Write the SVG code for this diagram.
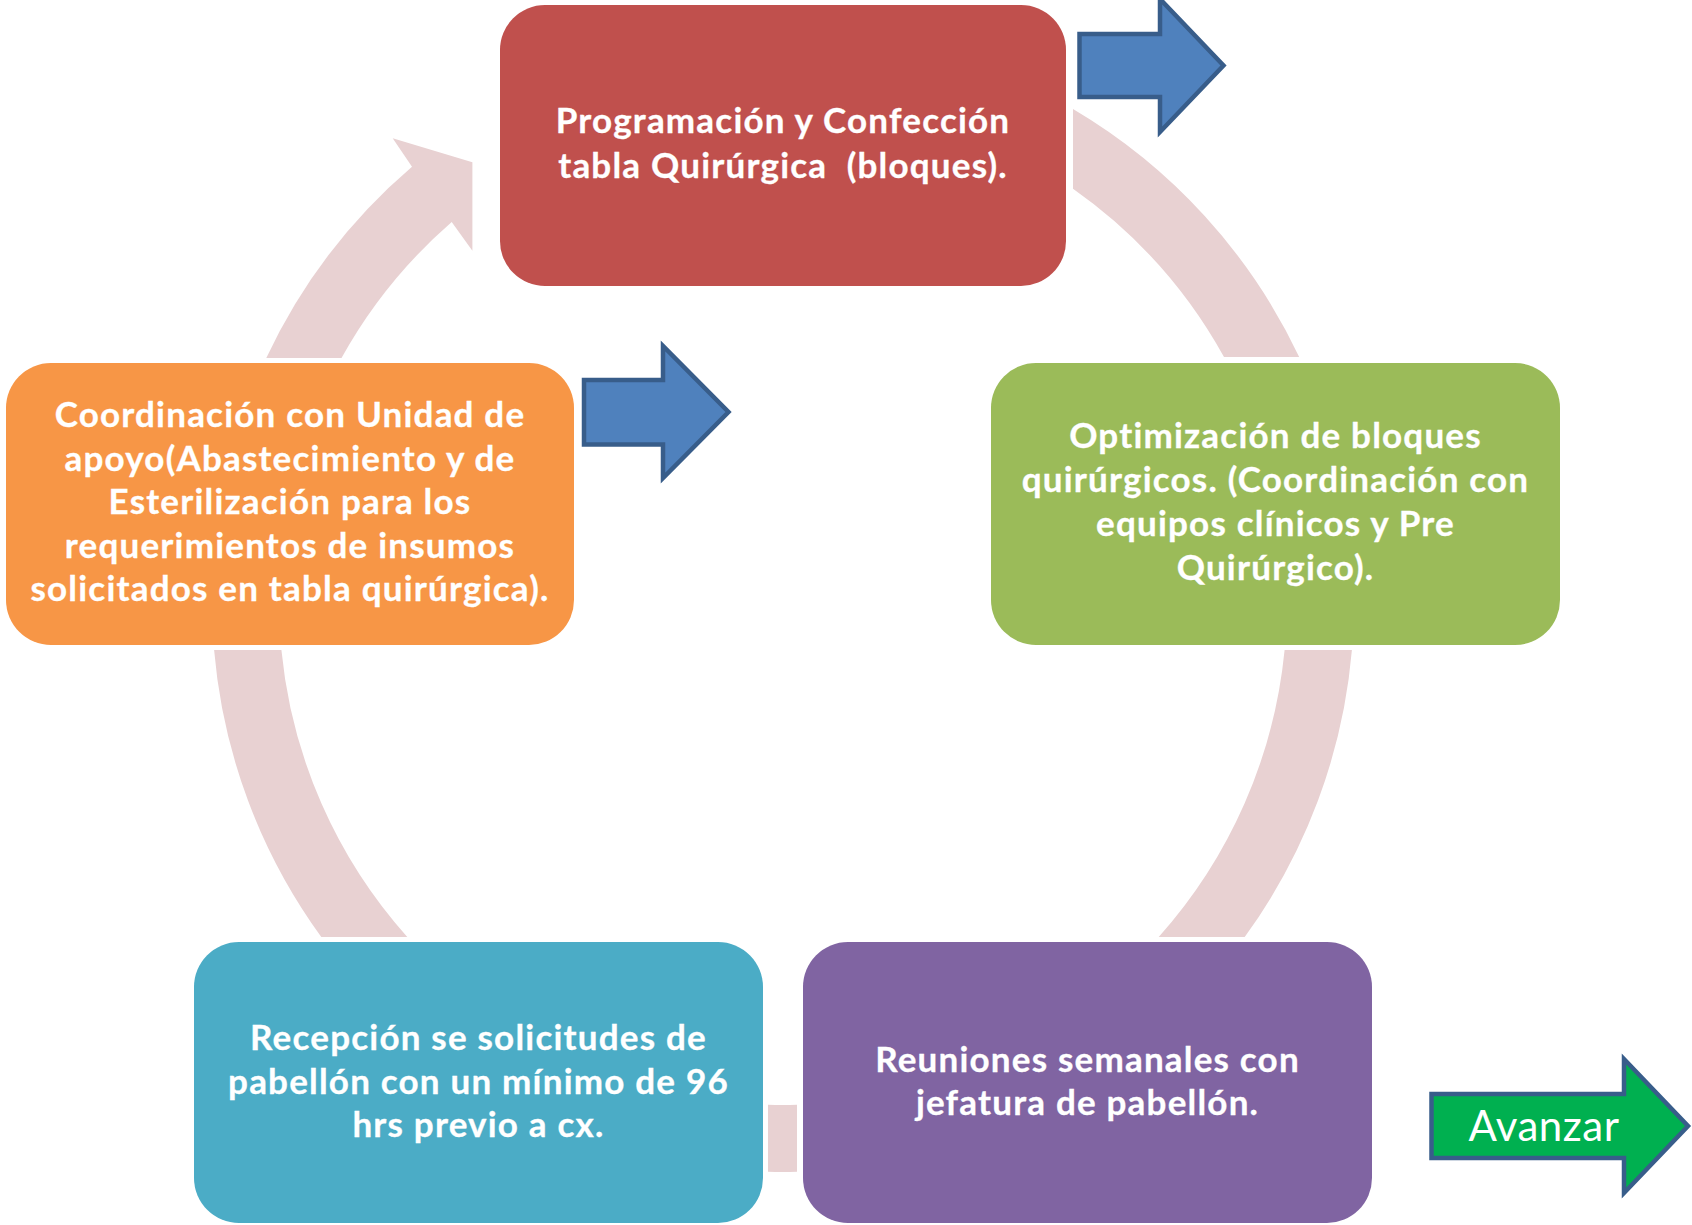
<svg xmlns="http://www.w3.org/2000/svg" width="1692" height="1225" viewBox="0 0 1692 1225">
  <style>
    .ring { fill: #E8D1D2; stroke: none; }
    .box { stroke: none; }
    .lbl { font-family: Lato, "Liberation Sans", sans-serif; font-weight: bold; font-size: 35px; letter-spacing: 1.2px; fill: #FFFFFF; stroke: #FFFFFF; stroke-width: 0.3; text-anchor: middle; }
    .blue-arrow { fill: #4F81BD; stroke: #385D8A; stroke-width: 4.5; stroke-linejoin: miter; }
    .go-arrow { fill: #00B050; stroke: #385D8A; stroke-width: 4.5; stroke-linejoin: miter; }
    .go-lbl { font-family: Lato, "Liberation Sans", sans-serif; font-size: 42px; letter-spacing: 0.5px; fill: #FFFFFF; text-anchor: middle; }
  </style>
  <rect width="1692" height="1225" fill="#FFFFFF"/>

  <g id="connectors">
    <path class="ring" d="M 1073 109.1 A 571 571 0 0 1 1299.2 357 L 1224 357 A 504 504 0 0 0 1073 188.8 Z"/>
    <path class="ring" d="M 1351.9 650 A 571 571 0 0 1 1244.7 937 L 1158.7 937 A 504 504 0 0 0 1284.6 650 Z"/>
    <path class="ring" d="M 797 1104.8 L 797 1171.8 A 571 571 0 0 1 768 1171.8 L 768 1104.8 A 504 504 0 0 0 797 1104.8 Z"/>
    <path class="ring" d="M 321.3 937 A 571 571 0 0 1 214.1 650 L 281.4 650 A 504 504 0 0 0 407.3 937 Z"/>
    <path class="ring" d="M 266.3 358 A 571 571 0 0 1 412 166.7 L 392.7 138.3 L 472.4 162.3 L 472.4 250.7 L 451.7 222 A 504 504 0 0 0 341.5 358 Z"/>
  </g>

  <g id="node-programacion">
    <rect class="box" x="500" y="5" width="566" height="281" rx="45" ry="45" fill="#C0504D"/>
    <text class="lbl" x="783" y="133">Programación y Confección</text>
    <text class="lbl" x="783" y="178" xml:space="preserve" style="white-space:pre">tabla Quirúrgica  (bloques).</text>
  </g>

  <g id="node-optimizacion">
    <rect class="box" x="991" y="363" width="569" height="282" rx="45" ry="45" fill="#9BBB59"/>
    <text class="lbl" x="1275.5" y="447.5">Optimización de bloques</text>
    <text class="lbl" x="1275.5" y="491.5">quirúrgicos. (Coordinación con</text>
    <text class="lbl" x="1275.5" y="535.5">equipos clínicos y Pre</text>
    <text class="lbl" x="1275.5" y="579.5">Quirúrgico).</text>
  </g>

  <g id="node-reuniones">
    <rect class="box" x="803" y="942" width="569" height="281" rx="45" ry="45" fill="#8064A2"/>
    <text class="lbl" x="1087.5" y="1072">Reuniones semanales con</text>
    <text class="lbl" x="1087.5" y="1115">jefatura de pabellón.</text>
  </g>

  <g id="node-recepcion">
    <rect class="box" x="194" y="942" width="569" height="281" rx="45" ry="45" fill="#4BACC6"/>
    <text class="lbl" x="478.5" y="1050">Recepción se solicitudes de</text>
    <text class="lbl" x="478.5" y="1093.5">pabellón con un mínimo de 96</text>
    <text class="lbl" x="478.5" y="1137">hrs previo a cx.</text>
  </g>

  <g id="node-coordinacion">
    <rect class="box" x="6" y="363" width="568" height="282" rx="45" ry="45" fill="#F79646"/>
    <text class="lbl" x="290" y="427">Coordinación con Unidad de</text>
    <text class="lbl" x="290" y="470.6">apoyo(Abastecimiento y de</text>
    <text class="lbl" x="290" y="514.2">Esterilización para los</text>
    <text class="lbl" x="290" y="557.8">requerimientos de insumos</text>
    <text class="lbl" x="290" y="601.4">solicitados en tabla quirúrgica).</text>
  </g>

  <g id="arrow-top">
    <path class="blue-arrow" d="M 1079.5 34 H 1160 V -1 L 1223.5 65.5 L 1160 132 V 97 H 1079.5 Z"/>
  </g>

  <g id="arrow-middle">
    <path class="blue-arrow" d="M 584 380 H 663 V 346 L 728.5 412 L 663 478 V 444.5 H 584 Z"/>
  </g>

  <g id="arrow-avanzar">
    <path class="go-arrow" d="M 1431.5 1094 H 1624 V 1059 L 1688 1126 L 1624 1193 V 1158 H 1431.5 Z"/>
    <text class="go-lbl" x="1544" y="1141">Avanzar</text>
  </g>
</svg>
